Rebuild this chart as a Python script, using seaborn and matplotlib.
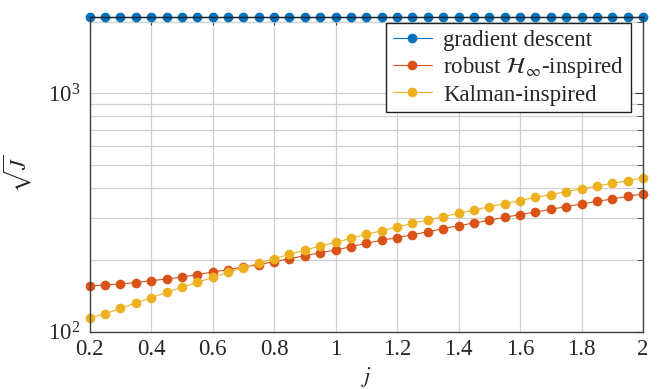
import numpy as np
import pandas as pd
import matplotlib
matplotlib.use("Agg")
import matplotlib.pyplot as plt
import seaborn as sns
from matplotlib.ticker import FuncFormatter, LogLocator, NullFormatter, MultipleLocator

j_values = [0.2, 0.25, 0.3, 0.35, 0.4, 0.45, 0.5, 0.55, 0.6, 0.65, 0.7, 0.75, 0.8, 0.85,
            0.9, 0.95, 1.0, 1.05, 1.1, 1.15, 1.2, 1.25, 1.3, 1.35, 1.4, 1.45, 1.5, 1.55,
            1.6, 1.65, 1.7, 1.75, 1.8, 1.85, 1.9, 1.95, 2.0]

gradient_descent = [2090] * 37

robust_hinf = [155.5, 157, 159, 160.5, 163.7, 166.3, 169.6, 173.4, 178, 182, 186.8, 191,
               196.7, 202.4, 208.4, 214.5, 220, 227.3, 235, 241.8, 247.9, 255.2, 262.7,
               270.4, 278.4, 285.7, 293.3, 302, 309.7, 317.8, 326.2, 334.5, 343.4, 352.4,
               360.4, 369.8, 378.1]

kalman = [114.5, 118.7, 125.3, 132, 138.9, 146.2, 153.5, 161, 169, 177.4, 185.6, 193.6,
          202.4, 211.2, 220, 228.8, 237, 246.5, 256.1, 265.3, 274.9, 284.9, 294.1, 303.7,
          313.8, 324.0, 334.5, 344.4, 354.3, 366.3, 375.6, 386.6, 398, 408.6, 419.4,
          428.8, 442.5]

series_names = ["gradient descent", r"robust $\mathcal{H}_\infty$-inspired", "Kalman-inspired"]
series_colors = ["#0072BD", "#D95319", "#EDB120"]

sns.set_style("white")
plt.rcParams["font.family"] = ["Liberation Serif", "DejaVu Serif"]
plt.rcParams["mathtext.fontset"] = "stix"

df = pd.concat([
    pd.DataFrame({"j": j_values, "val": vals, "method": name})
    for name, vals in zip(series_names, [gradient_descent, robust_hinf, kalman])
])

fig = plt.figure(figsize=(6.58, 3.89), dpi=100)
ax = fig.add_axes([0.1363, 0.1473, 0.9772 - 0.1363, 0.9563 - 0.1473])

sns.lineplot(data=df, x="j", y="val", hue="method", hue_order=series_names,
             palette=series_colors, marker="o", markersize=7, markeredgewidth=0,
             linewidth=0.8, ax=ax, legend=True)

ax.set_yscale("log")
ax.set_xlim(0.2, 2.0)
ax.set_ylim(100, 2090)

ax.xaxis.set_major_locator(MultipleLocator(0.2))
ax.xaxis.set_major_formatter(FuncFormatter(lambda v, p: "%g" % round(v, 2)))
ax.yaxis.set_major_locator(LogLocator(base=10))
ax.yaxis.set_minor_locator(LogLocator(base=10, subs=np.arange(2, 10)))
ax.yaxis.set_minor_formatter(NullFormatter())

ax.grid(True, which="major", color="#d0d0d0", linewidth=0.9)
ax.grid(True, which="minor", axis="y", color="#d0d0d0", linewidth=0.9)
ax.set_axisbelow(True)

for s in ax.spines.values():
    s.set_color("#404040")
    s.set_linewidth(1.0)
ax.spines["top"].set_color("#202020")

ax.tick_params(which="both", direction="in", top=True, right=True, color="#404040",
               labelsize=16.5)
ax.tick_params(axis="x", pad=5)
ax.tick_params(axis="y", pad=7)
ax.tick_params(which="major", length=6)
ax.tick_params(which="minor", length=4)

for ln in ax.lines:
    ln.set_clip_on(False)

ax.set_xlabel(r"$j$", fontsize=16)
ax.set_ylabel(r"$\sqrt{J}$", fontsize=16)
ax.xaxis.set_label_coords(0.5, -0.105)
ax.yaxis.set_label_coords(-0.1, 0.5)

handles, labels = ax.get_legend_handles_labels()
leg = ax.legend(handles, labels, loc="upper right", bbox_to_anchor=(0.979, 0.980),
                borderaxespad=0, fancybox=False, edgecolor="#202020", framealpha=1,
                fontsize=16.5, handlelength=1.7, labelspacing=0.18, handletextpad=0.5,
                borderpad=0.3)
leg.get_frame().set_linewidth(1.0)

fig.savefig("out.png", dpi=100)
